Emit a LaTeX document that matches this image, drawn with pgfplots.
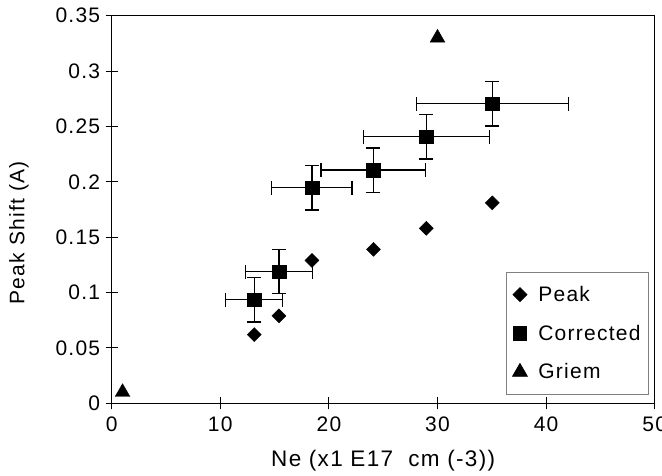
\documentclass[border=0pt]{standalone}
\usepackage{pgfplots}
\pgfplotsset{compat=1.18}
\usepackage{fontspec}
\setmainfont[LetterSpace=6]{Liberation Sans}
\pgfplotstableread{
x y
13.13 0.062
15.4 0.079
18.44 0.129
24.1 0.139
28.97 0.158
35.05 0.181
}\peak
\pgfplotstableread{
x y ex ey
13.13 0.0935 2.63 0.02
15.4 0.119 3.08 0.02
18.44 0.1946 3.69 0.02
24.09 0.2106 4.82 0.02
28.97 0.2406 5.79 0.02
35.05 0.2704 7.01 0.02
}\corrected
\pgfplotstableread{
x y
1 0.01
30 0.33
}\griem
\begin{document}
\begin{tikzpicture}
\begin{axis}[
  scale only axis, width=543bp, height=387.6bp,
  xmin=0, xmax=50, ymin=0, ymax=0.35,
  xtick={0,10,20,30,40,50},
  xticklabels={0,10,20,30,40,50},
  ytick={0,0.05,0.1,0.15,0.2,0.25,0.3,0.35},
  yticklabels={0,0.05,0.1,0.15,0.2,0.25,0.3,0.35},
  tick align=center, major tick length=12bp,
  xtick pos=bottom, ytick pos=left,
  axis line style={line width=1pt, black},
  tick style={line width=1pt, black},
  ticklabel style={font=\fontsize{21bp}{25bp}\selectfont},
  xticklabel style={yshift=-4bp},
  yticklabel style={xshift=-2bp},
  xlabel={Ne (x1 E17 \ cm (-3))},
  ylabel={Peak Shift (A)},
  xlabel style={font=\fontsize{22.5bp}{27bp}\selectfont, at={(axis description cs:0.5,0)}, anchor=base, yshift=-63bp},
  ylabel style={font=\fontsize{21bp}{25bp}\selectfont, at={(axis description cs:-0.1707,0.44)}, anchor=center},
  legend cell align=left,
  legend style={at={(rel axis cs:0.9895,0.022)}, anchor=south east,
    draw=gray, line width=0.8pt, font=\fontsize{21bp}{25bp}\selectfont,
    row sep=18bp, inner xsep=6bp, inner ysep=12bp,
    /tikz/every odd column/.append style={column sep=9bp}},
]
\coordinate (ll) at (rel axis cs:0,0);
\addplot[only marks, mark=square*, mark size=4.95bp, mark options={rotate=45, black, fill=black}] table[x=x,y=y]{\peak};
\addlegendentry{Peak}
\addplot[only marks, mark=square*, mark size=6.8bp, mark options={black, fill=black},
  error bars/.cd, x dir=both, x explicit, y dir=both, y explicit,
  error bar style={line width=1.2pt, black},
  error mark options={black, rotate=90, mark size=7bp, line width=1.2pt}]
  table[x=x,y=y,x error=ex,y error=ey]{\corrected};
\addlegendentry{Corrected}
\addplot[only marks, mark=triangle*, mark size=8.5bp, mark options={black, fill=black}] table[x=x,y=y]{\griem};
\addlegendentry{Griem}
\end{axis}
\pgfresetboundingbox
\path ([shift={(-111.7bp,-72.7bp)}]ll) rectangle ++(662bp,476bp);
\end{tikzpicture}
\end{document}
